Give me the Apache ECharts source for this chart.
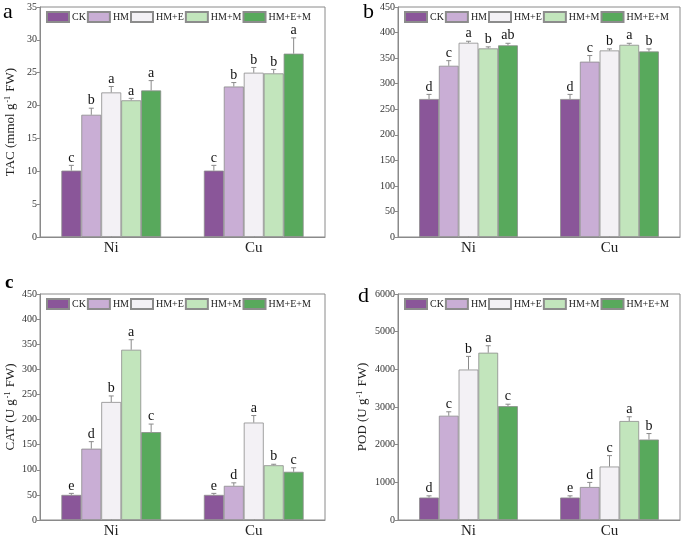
<!DOCTYPE html>
<html>
<head>
<meta charset="utf-8">
<script src="https://cdn.jsdelivr.net/npm/echarts@6/dist/echarts.min.js"></script>
<style>html,body{margin:0;padding:0;background:#fff}#c{width:685px;height:539px}</style>
</head>
<body>
<div id="c"></div>
<script>
// ---- data ----
const categories = ['Ni', 'Cu'];
const groups = ['CK', 'HM', 'HM+E', 'HM+M', 'HM+E+M'];
const colors = ['#8a5699', '#c9aed5', '#f3f1f5', '#c2e5bc', '#58a95c'];

// TAC (mmol g-1 FW): [group][category]
const tacMean = [[10.1, 10.1], [18.6, 22.9], [22.0, 25.0], [20.8, 24.9], [22.3, 27.9]];
const tacErr = [[0.8, 0.8], [1.0, 0.6], [0.9, 0.8], [0.3, 0.6], [1.5, 2.4]];
const tacLetters = [['c', 'c'], ['b', 'b'], ['a', 'b'], ['a', 'b'], ['a', 'a']];

// panel b
const bMean = [[270, 270], [335, 343], [380, 365], [369, 376], [375, 363]];
const bErr = [[9, 9], [10, 12], [3, 3], [3, 3], [4, 5]];
const bLetters = [['d', 'd'], ['c', 'c'], ['a', 'b'], ['b', 'a'], ['ab', 'b']];

// CAT (U g-1 FW)
const catMean = [[50, 50], [142, 68], [235, 194], [339, 109], [175, 96]];
const catErr = [[3, 3], [14, 6], [12, 14], [20, 2], [16, 8]];
const catLetters = [['e', 'e'], ['d', 'd'], ['b', 'a'], ['a', 'b'], ['c', 'c']];

// POD (U g-1 FW)
const podMean = [[596, 596], [2768, 876], [3994, 1419], [4441, 2628], [3022, 2137]];
const podErr = [[45, 45], [105, 122], [350, 290], [185, 113], [52, 158]];
const podLetters = [['d', 'e'], ['c', 'd'], ['b', 'c'], ['a', 'a'], ['c', 'b']];

const yMax = [35, 450, 450, 6000];
const yInterval = [5, 50, 50, 1000];
const yNames = ['TAC (mmol g', '', 'CAT (U g', 'POD (U g'];
const panelLetters = ['a', 'b', 'c', 'd'];

// ---- layout ----
const FONT = 'Liberation Serif';
const grids = [
  { left: 40, top: 7, width: 285, height: 230 },
  { left: 398, top: 7, width: 282, height: 230 },
  { left: 40, top: 294, width: 285, height: 229 },
  { left: 398, top: 294, width: 282, height: 229 }
];
const letterPos = [[3, 18], [363, 18], [5, 291], [358, 302]];

const panels = [
  { mean: tacMean, err: tacErr, letters: tacLetters },
  { mean: bMean, err: bErr, letters: bLetters },
  { mean: catMean, err: catErr, letters: catLetters },
  { mean: podMean, err: podErr, letters: podLetters }
];

const xAxes = [], yAxes = [], series = [], legends = [], graphics = [];
const gridOpts = grids.map(g => Object.assign({
  show: true, borderColor: '#8a8a8a', borderWidth: 1, backgroundColor: 'transparent', containLabel: false
}, g));

panels.forEach((p, k) => {
  xAxes.push({
    gridIndex: k, type: 'category', data: categories,
    axisLine: { lineStyle: { color: '#8a8a8a', width: 1 } },
    axisTick: { show: true, inside: true, alignWithLabel: true, length: 3, lineStyle: { color: '#8a8a8a' } },
    axisLabel: { color: '#222', fontFamily: FONT, fontSize: 15, margin: 4 }
  });
  const yName = yNames[k]
    ? '{t|' + yNames[k] + '}{s|-1}{t| FW)}'
    : '';
  yAxes.push({
    gridIndex: k, type: 'value', min: 0, max: yMax[k], interval: yInterval[k],
    splitLine: { show: false },
    axisLine: { show: true, lineStyle: { color: '#8a8a8a', width: 1 } },
    axisTick: { show: true, length: 3, lineStyle: { color: '#8a8a8a' } },
    axisLabel: { color: '#333', fontFamily: FONT, fontSize: 10, margin: 3, formatter: v => String(v) },
    name: yName, nameLocation: 'middle', nameRotate: 90, nameGap: k === 3 ? 28 : 22,
    nameTextStyle: {
      rich: {
        t: { fontFamily: FONT, fontSize: 13, color: '#222' },
        s: { fontFamily: FONT, fontSize: 8, color: '#222', verticalAlign: 'top', padding: [0, 1, 6, 1] }
      }
    }
  });
  groups.forEach((gname, i) => {
    series.push({
      type: 'bar', name: gname, xAxisIndex: k, yAxisIndex: k,
      data: p.mean[i],
      barGap: '0%', barCategoryGap: '30%',
      itemStyle: { color: colors[i], borderColor: '#8c8c8c', borderWidth: 0.8 },
      emphasis: { disabled: true },
      animation: false
    });
  });
  groups.forEach((gname, i) => {
    const data = categories.map((c, j) => [j, p.mean[i][j], p.err[i][j], p.letters[i][j]]);
    series.push({
      type: 'custom', name: 'err' + k + '_' + i, xAxisIndex: k, yAxisIndex: k,
      data: data, z: 5, animation: false, silent: true,
      renderItem: (params, api) => {
        const j = api.value(0);
        const v = api.value(1);
        const e = api.value(2);
        const letter = data[params.dataIndex][3];
        const band = api.size([1, 0])[0];
        const bw = band * 0.7 / 5;
        const base = api.coord([j, v]);
        const cx = base[0] + (i - 2) * bw;
        const yTop = base[1];
        const yErr = api.coord([j, v + e])[1];
        return {
          type: 'group',
          children: [
            { type: 'line', shape: { x1: cx, y1: yTop, x2: cx, y2: yErr }, style: { stroke: '#8a8a8a', lineWidth: 1 } },
            { type: 'line', shape: { x1: cx - 2.5, y1: yErr, x2: cx + 2.5, y2: yErr }, style: { stroke: '#8a8a8a', lineWidth: 1 } },
            { type: 'text', x: cx, y: yErr - 0.5, style: { text: letter, fill: '#111', font: '14px "' + FONT + '"', align: 'center', verticalAlign: 'bottom' } }
          ]
        };
      }
    });
  });
  legends.push({
    data: groups, left: grids[k].left + 6, top: grids[k].top + 4,
    orient: 'horizontal', icon: 'rect', itemWidth: 22, itemHeight: 10, itemGap: 1,
    padding: 0, selectedMode: false,
    textStyle: { fontFamily: FONT, fontSize: 10, color: '#222', padding: [0, 0, 0, -2] }
  });
  graphics.push({
    type: 'text', left: letterPos[k][0], top: letterPos[k][1] - 17,
    style: { text: panelLetters[k], font: (k === 2 ? 'bold 19px' : '22px') + ' "' + FONT + '"', fill: '#000' }
  });
});

const chart = echarts.init(document.getElementById('c'), null, { renderer: 'canvas' });
chart.setOption({
  animation: false,
  grid: gridOpts,
  xAxis: xAxes,
  yAxis: yAxes,
  legend: legends,
  series: series,
  graphic: graphics
});
</script>
</body>
</html>
